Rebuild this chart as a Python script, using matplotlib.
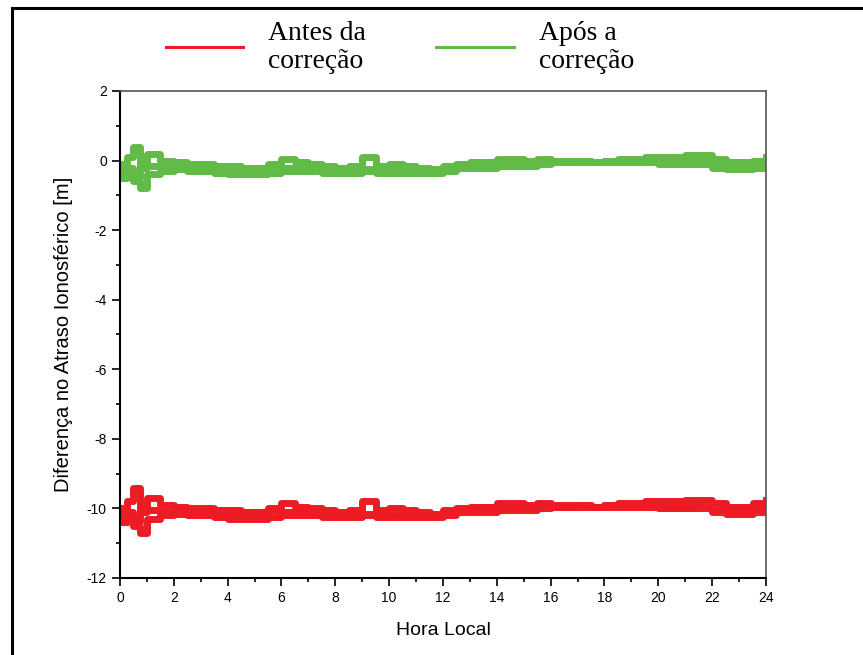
import matplotlib
matplotlib.use("Agg")
import matplotlib.pyplot as plt
from matplotlib.lines import Line2D
from matplotlib.ticker import MultipleLocator

plt.rcParams['axes.unicode_minus'] = False

# hora local (h)
hours = [0, 0.25, 0.5, 0.75, 1, 1.5, 2, 2.5, 3, 3.5, 4, 4.5, 5, 5.5, 6, 6.5, 7,
         7.5, 8, 8.5, 9, 9.5, 10, 10.5, 11, 11.5, 12, 12.5, 13, 13.5, 14, 14.5,
         15, 15.5, 16, 16.5, 17, 17.5, 18, 18.5, 19, 19.5, 20, 20.5, 21, 21.5,
         22, 22.5, 23, 23.5, 24]

# apos a correcao (tres trilhas)
green_upper = [-0.3, 0.1, 0.4, -0.2, 0.2, 0.0, -0.05, -0.1, -0.1, -0.15, -0.15,
               -0.2, -0.2, -0.1, 0.05, -0.05, -0.1, -0.15, -0.2, -0.25, 0.1,
               -0.15, -0.1, -0.15, -0.2, -0.25, -0.2, -0.15, -0.05, -0.05, 0.05,
               0.05, 0.0, 0.05, 0.0, 0.0, 0.0, -0.05, 0.0, 0.05, 0.05, 0.1, 0.1,
               0.1, 0.15, 0.15, 0.05, -0.05, -0.05, 0.0, 0.1]
green_mid = [-0.1, -0.4, -0.2, -0.5, -0.1, -0.15, -0.2, -0.15, -0.25, -0.25,
             -0.3, -0.25, -0.3, -0.2, -0.15, -0.2, -0.2, -0.25, -0.3, -0.3,
             -0.15, -0.25, -0.2, -0.3, -0.25, -0.3, -0.25, -0.15, -0.1, -0.15,
             -0.05, -0.1, -0.05, -0.05, -0.05, -0.05, -0.05, 0.0, -0.05, 0.0,
             0.0, 0.0, 0.05, 0.0, 0.05, 0.0, -0.05, -0.15, -0.15, -0.1, 0.0]
green_lower = [-0.5, -0.3, -0.6, -0.8, -0.4, -0.3, -0.25, -0.3, -0.3, -0.35,
               -0.4, -0.4, -0.4, -0.35, -0.3, -0.3, -0.3, -0.35, -0.35, -0.35,
               -0.3, -0.35, -0.35, -0.35, -0.35, -0.35, -0.3, -0.2, -0.2, -0.2,
               -0.15, -0.15, -0.15, -0.1, -0.05, -0.05, -0.05, -0.05, -0.05,
               -0.05, -0.05, -0.05, -0.1, -0.1, -0.1, -0.1, -0.2, -0.25, -0.25,
               -0.2, -0.05]

# antes da correcao (tres trilhas)
red_upper = [-10.2, -9.8, -9.4, -10.1, -9.7, -9.9, -9.95, -10.0, -10.0, -10.05,
             -10.05, -10.1, -10.1, -10.0, -9.85, -9.95, -10.0, -10.05, -10.1,
             -10.15, -9.8, -10.05, -10.0, -10.05, -10.1, -10.15, -10.1, -10.05,
             -9.95, -9.95, -9.85, -9.85, -9.9, -9.85, -9.9, -9.9, -9.9, -9.95,
             -9.9, -9.85, -9.85, -9.8, -9.8, -9.8, -9.75, -9.75, -9.85, -9.95,
             -9.95, -9.9, -9.75]
red_mid = [-10.0, -10.4, -10.1, -10.4, -10.0, -10.05, -10.1, -10.1, -10.15,
           -10.15, -10.2, -10.2, -10.2, -10.1, -10.05, -10.1, -10.1, -10.15,
           -10.2, -10.2, -10.05, -10.15, -10.1, -10.2, -10.15, -10.2, -10.15,
           -10.05, -10.0, -10.05, -9.95, -9.95, -9.95, -9.95, -9.9, -9.95,
           -9.95, -9.9, -9.95, -9.9, -9.9, -9.9, -9.9, -9.9, -9.85, -9.9,
           -9.95, -10.05, -10.05, -10.0, -9.85]
red_lower = [-10.4, -10.2, -10.5, -10.7, -10.3, -10.2, -10.15, -10.2, -10.2,
             -10.25, -10.3, -10.3, -10.3, -10.25, -10.2, -10.2, -10.2, -10.25,
             -10.25, -10.25, -10.2, -10.25, -10.25, -10.25, -10.25, -10.25,
             -10.2, -10.1, -10.1, -10.1, -10.05, -10.05, -10.05, -10.0, -9.95,
             -9.95, -9.95, -9.95, -9.95, -9.95, -9.95, -9.95, -10.0, -10.0,
             -10.0, -10.0, -10.1, -10.15, -10.15, -10.1, -9.95]

labels = ['Antes da\ncorreção', 'Após a\ncorreção']
red = '#ED1C24'
green = '#62BB46'

fig = plt.figure(figsize=(8.63, 6.55), dpi=100)
ax = fig.add_axes([0.139, 0.1176, 0.7486, 0.7435])

lw = 5
for series, color in [([red_upper, red_mid, red_lower], red),
                      ([green_upper, green_mid, green_lower], green)]:
    upper, mid, lower = series
    ax.plot(hours, upper, drawstyle='steps-post', color=color, lw=lw)
    ax.plot(hours, mid, drawstyle='steps-pre', color=color, lw=lw)
    ax.plot(hours, lower, drawstyle='steps-post', color=color, lw=lw)

ax.set_xlim(0, 24)
ax.set_ylim(-12, 2)
ax.xaxis.set_major_locator(MultipleLocator(2))
ax.xaxis.set_minor_locator(MultipleLocator(1))
ax.yaxis.set_major_locator(MultipleLocator(2))
ax.yaxis.set_minor_locator(MultipleLocator(1))
ax.tick_params(which='both', direction='out', top=False, right=False,
               labelsize=10, width=1.2)
ax.tick_params(which='major', length=6)
ax.tick_params(which='minor', length=3)
for lab in ax.get_xticklabels() + ax.get_yticklabels():
    lab.set_family('Liberation Sans')

ax.spines['left'].set_linewidth(1.5)
ax.spines['bottom'].set_linewidth(1.5)
ax.spines['top'].set_color('#555555')
ax.spines['right'].set_color('#555555')
ax.spines['top'].set_linewidth(1.2)
ax.spines['right'].set_linewidth(1.2)

ax.set_xlabel('Hora Local', family='Liberation Sans', fontsize=14, labelpad=12)
ax.set_ylabel('Diferença no Atraso Ionosférico [m]', family='Liberation Sans',
              fontsize=14.5, labelpad=10)

handles = [Line2D([], [], color=red, lw=2.2), Line2D([], [], color=green, lw=2.2)]
leg = ax.legend(handles, labels, ncol=2, frameon=False, loc='lower left',
                bbox_to_anchor=(0.045, 1.0),
                prop={'family': 'Liberation Serif', 'size': 20},
                handlelength=2.8, handletextpad=0.9, columnspacing=2.5,
                borderaxespad=0.2)
for t in leg.get_texts():
    t.set_linespacing(1.2)

# moldura da figura
fig.add_artist(Line2D([0.0139, 0.0139], [0.0, 0.988], color='black', lw=2.2,
                      transform=fig.transFigure))
fig.add_artist(Line2D([0.0139, 1.0], [0.988, 0.988], color='black', lw=2.2,
                      transform=fig.transFigure))

fig.savefig('out.png', dpi=100)
